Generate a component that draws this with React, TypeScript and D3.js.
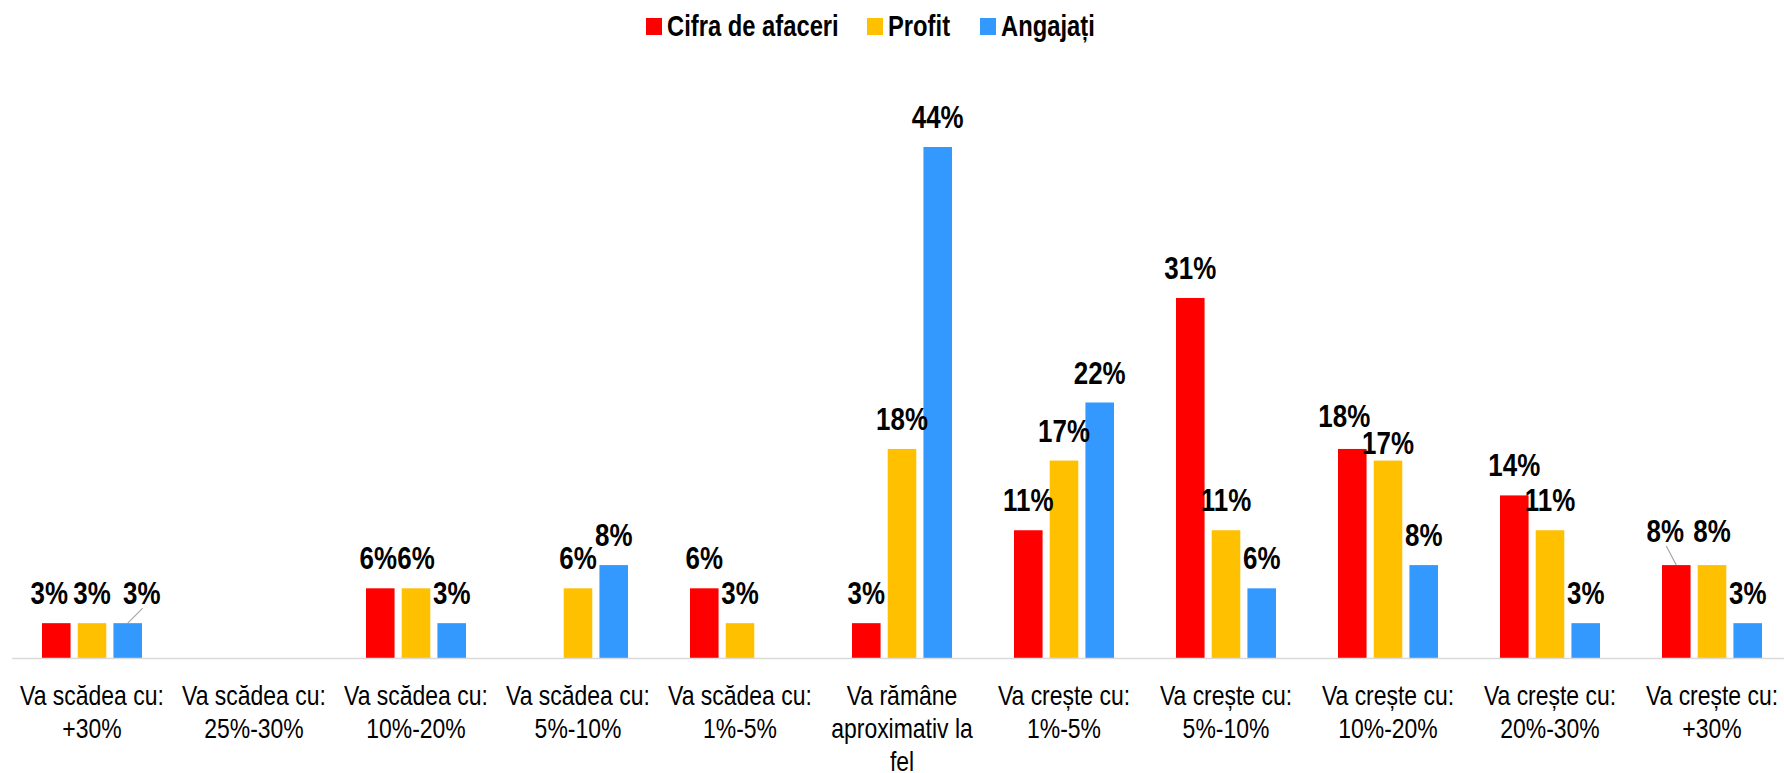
import React from "react";
import * as d3 from "d3";

const categories = [
  "Va scădea cu:\n+30%",
  "Va scădea cu:\n25%-30%",
  "Va scădea cu:\n10%-20%",
  "Va scădea cu:\n5%-10%",
  "Va scădea cu:\n1%-5%",
  "Va rămâne\naproximativ la\nfel",
  "Va crește cu:\n1%-5%",
  "Va crește cu:\n5%-10%",
  "Va crește cu:\n10%-20%",
  "Va crește cu:\n20%-30%",
  "Va crește cu:\n+30%",
];

const seriesNames = ["Cifra de afaceri", "Profit", "Angajați"];

// null = no answer, no bar and no label
const cifraDeAfaceri = [3, null, 6, null, 6, 3, 11, 31, 18, 14, 8];
const profit = [3, null, 6, 6, 3, 18, 17, 11, 17, 11, 8];
const angajati = [3, null, 3, 8, null, 44, 22, 6, 8, 3, 3];

const colors = ["#FF0000", "#FFC000", "#3399FF"];

// label nudges like Excel's auto placement
const labelNudge: Record<string, { dx?: number; dy?: number; leader?: boolean }> = {
  "0-0": { dx: -7 },
  "2-0": { dx: 14, leader: true },
  "0-2": { dx: -2 },
  "0-8": { dx: -8, dy: -3 },
  "1-8": { dy: 12 },
  "0-10": { dx: -11, dy: -4, leader: true },
  "1-10": { dy: -4 },
};

const W = 1784;
const H = 773;
const FONT = "'Liberation Sans', Arial, sans-serif";

// no narrow font installed, so squeeze Arial horizontally
function Narrow(props: {
  x: number;
  y: number;
  sx: number;
  size: number;
  bold?: boolean;
  anchor?: string;
  children: React.ReactNode;
}) {
  return (
    <g transform={`translate(${props.x},${props.y}) scale(${props.sx},1)`}>
      <text
        x={0}
        y={0}
        textAnchor={props.anchor || "start"}
        fontFamily={FONT}
        fontWeight={props.bold ? "bold" : "normal"}
        fontSize={props.size}
        fill="#000"
      >
        {props.children}
      </text>
    </g>
  );
}

export default function App() {
  const values = [cifraDeAfaceri, profit, angajati];

  const x0 = d3.scaleBand<string>().domain(categories).range([11, 1793]).padding(0);
  const x1 = d3
    .scaleBand<string>()
    .domain(seriesNames)
    .range([31, 131])
    .paddingInner(0.2);
  const y = d3.scaleLinear().domain([0, 44]).range([658, 147]);

  const legendX = [646, 867, 980];

  return (
    <svg
      width={W}
      height={H}
      style={{ position: "absolute", left: 0, top: 0, background: "#fff" }}
    >
      {/* legend */}
      {seriesNames.map((s, i) => (
        <g key={s}>
          <rect x={legendX[i]} y={18} width={16} height={17} fill={colors[i]} />
          <Narrow x={legendX[i] + 21} y={36} sx={0.82} size={29} bold>
            {s}
          </Narrow>
        </g>
      ))}

      {/* bars */}
      {values.map((vals, si) =>
        vals.map((v, ci) => {
          if (v == null) return null;
          const bx = (x0(categories[ci]) ?? 0) + (x1(seriesNames[si]) ?? 0);
          return (
            <rect
              key={`b${si}-${ci}`}
              x={bx}
              y={y(v)}
              width={x1.bandwidth()}
              height={y(0) - y(v)}
              fill={colors[si]}
            />
          );
        })
      )}

      {/* axis line */}
      <line x1={12} x2={W} y1={658.5} y2={658.5} stroke="#D9D9D9" strokeWidth={1.3} />

      {/* data labels */}
      {values.map((vals, si) =>
        vals.map((v, ci) => {
          if (v == null) return null;
          const cx = (x0(categories[ci]) ?? 0) + (x1(seriesNames[si]) ?? 0) + x1.bandwidth() / 2;
          const nudge = labelNudge[`${si}-${ci}`] || {};
          const lx = cx + (nudge.dx || 0);
          const ly = y(v) - 19 + (nudge.dy || 0);
          return (
            <g key={`l${si}-${ci}`}>
              {nudge.leader && (
                <line x1={lx + 1} y1={ly + 4} x2={cx} y2={y(v)} stroke="#A6A6A6" strokeWidth={1.2} />
              )}
              <Narrow x={lx} y={ly} sx={0.85} size={30.5} bold anchor="middle">
                {v}%
              </Narrow>
            </g>
          );
        })
      )}

      {/* category labels */}
      {categories.map((c) => {
        const cx = (x0(c) ?? 0) + x0.bandwidth() / 2;
        return (
          <g key={c}>
            {c.split("\n").map((line, i) => (
              <Narrow key={i} x={cx} y={705 + i * 33} sx={0.82} size={28} anchor="middle">
                {line}
              </Narrow>
            ))}
          </g>
        );
      })}
    </svg>
  );
}
